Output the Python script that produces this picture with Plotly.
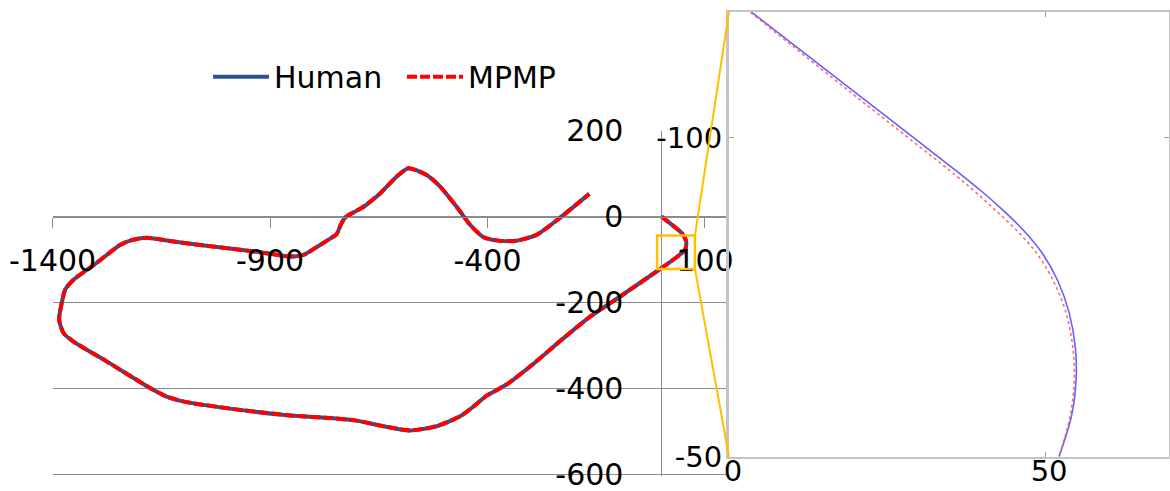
import plotly.graph_objects as go

# ---------------- data ----------------
# main trajectory (metres)
human_x = [0, 47, 57, 54.5, 31.5, -3, -95, -164, -225, -302, -356, -402, -432, -463, -517, -578,
           -639, -701, -762, -854, -969, -1092, -1138, -1176, -1276, -1352, -1375, -1385,
           -1379, -1371, -1352, -1299, -1245, -1222, -1184, -1122, -1046, -969, -892, -854, -823,
           -785, -760, -747, -737, -728, -715, -685, -647, -609, -582, -540, -509, -471, -440,
           -409, -371, -333, -287, -225, -166]
human_y = [0, -39, -58, -77, -97, -122, -186, -233, -283, -349, -391, -417, -442, -465, -488, -498,
           -488, -475, -469, -463, -450, -432, -419, -399, -337, -291, -271, -240,
           -201, -170, -147, -108, -66, -56, -49, -58, -68, -77, -87.5, -93, -89,
           -66, -50, -41, -18, -3, 6, 23, 54, 93, 112.6, 97, 70, 23, -19,
           -48, -56.5, -56, -42.5, 4, 53]
mpmp_x = [0, 47, 57, 54.5, 31.5, -3, -95, -164, -225, -302, -356, -402, -432, -463, -517, -578,
          -639, -701, -762, -854, -969, -1092, -1138, -1176, -1276, -1352, -1375, -1385,
          -1379, -1371, -1352, -1299, -1245, -1222, -1184, -1122, -1046, -969, -892, -854, -823,
          -785, -760, -747, -737, -728, -715, -685, -647, -609, -582, -540, -509, -471, -440,
          -409, -371, -333, -287, -225, -166]
mpmp_y = [0, -39, -58, -77, -97, -122, -186, -233, -283, -349, -391, -417, -442, -465, -488, -498,
          -488, -475, -469, -463, -450, -432, -419, -399, -337, -291, -271, -240,
          -201, -170, -147, -108, -66, -56, -49, -58, -68, -77, -87.5, -93, -89,
          -66, -50, -41, -18, -3, 6, 23, 54, 93, 112.6, 97, 70, 23, -19,
          -48, -56.5, -56, -42.5, 4, 53]

# zoomed detail (inset)
inset_human_x = [3.6, 20, 36, 40, 43.2, 46.5, 49.5, 52, 53.8, 54.8, 54.9, 54.2, 52.2]
inset_human_y = [-119.7, -107.1, -94.8, -91.6, -88.8, -85.6, -82, -77.6, -72.6, -67, -62, -56.5, -50]
inset_mpmp_x = [3.4, 19.3, 35.0, 38.9, 42.0, 45.4, 48.6, 51.3, 53.3, 54.4, 54.6, 54.0, 52.2]
inset_mpmp_y = [-119.7, -107.1, -94.8, -91.6, -88.8, -85.6, -82, -77.6, -72.6, -67, -62, -56.5, -50]

series_names = ["Human", "MPMP"]
main_x_ticks = [-1400, -900, -400, 100]
main_y_ticks = [200, 0, -200, -400, -600]
inset_x_ticks = [0, 50]
inset_y_ticks = [-100, -50]

# zoom box on the main chart (data units)
zoom_box = dict(x0=-10, x1=77, y0=-44, y1=-122)

# ---------------- layout constants ----------------
W, H = 1170, 491
FONT = "DejaVu Sans"
BLUE = "#2B5592"
RED = "#FF0000"
GOLD = "#FFC000"
GRID = "#8C8C8C"

main_xrange = [-1400, 153]
main_yrange = [-603, 200]
main_xdom = [52.6 / W, 728 / W]
main_ydom = [(H - 475.6) / H, (H - 130.7) / H]

inset_xrange = [0, 69.6]
inset_yrange = [-50, -119.8]
inset_xdom = [729 / W, 1169 / W]
inset_ydom = [(H - 456.7) / H, (H - 11.7) / H]


def px_x(v):
    return main_xdom[0] + (v - main_xrange[0]) / (main_xrange[1] - main_xrange[0]) * (main_xdom[1] - main_xdom[0])


def px_y(v):
    return main_ydom[0] + (v - main_yrange[0]) / (main_yrange[1] - main_yrange[0]) * (main_ydom[1] - main_ydom[0])


def labels(vals):
    return [str(v) for v in vals]


fig = go.Figure()

fig.add_trace(go.Scatter(x=human_x, y=human_y, mode="lines", name=series_names[0],
                         line=dict(color=BLUE, width=4, shape="spline", smoothing=0.6),
                         xaxis="x", yaxis="y"))
fig.add_trace(go.Scatter(x=mpmp_x, y=mpmp_y, mode="lines", name=series_names[1],
                         line=dict(color=RED, width=4, dash="10px,3px", shape="spline", smoothing=0.6),
                         xaxis="x", yaxis="y"))

fig.add_trace(go.Scatter(x=inset_human_x, y=inset_human_y, mode="lines", showlegend=False,
                         line=dict(color="rgba(70,70,255,0.85)", width=1.6, shape="spline", smoothing=1.0),
                         xaxis="x2", yaxis="y2"))
fig.add_trace(go.Scatter(x=inset_mpmp_x, y=inset_mpmp_y, mode="lines", showlegend=False,
                         line=dict(color="rgba(255,90,90,0.9)", width=1.6, dash="3px,3px",
                                   shape="spline", smoothing=1.0),
                         xaxis="x2", yaxis="y2"))

# zoom box and connectors
fig.add_shape(type="rect", xref="x", yref="y", **zoom_box, line=dict(color=GOLD, width=2.5))
fig.add_shape(type="line", xref="paper", yref="paper",
              x0=px_x(zoom_box["x1"]), y0=px_y(zoom_box["y0"]),
              x1=inset_xdom[0], y1=inset_ydom[1], line=dict(color=GOLD, width=2))
fig.add_shape(type="line", xref="paper", yref="paper",
              x0=px_x(zoom_box["x1"]), y0=px_y(zoom_box["y1"]),
              x1=inset_xdom[0], y1=inset_ydom[0], line=dict(color=GOLD, width=2))

tickfont = dict(family=FONT, size=30, color="black")
insetfont = dict(family=FONT, size=29, color="black")

fig.update_layout(
    width=W, height=H, margin=dict(l=0, r=0, t=0, b=0, autoexpand=False),
    paper_bgcolor="white", plot_bgcolor="white",
    font=dict(family=FONT, size=30, color="black"),
    showlegend=True,
    legend=dict(orientation="h", x=208 / W, xanchor="left", y=(H - 76.7) / H, yanchor="middle",
                font=dict(family=FONT, size=30, color="black"), bgcolor="rgba(0,0,0,0)",
                itemwidth=56, entrywidth=123, entrywidthmode="pixels"),
    xaxis=dict(domain=main_xdom, range=main_xrange, anchor="free", automargin=False,
               position=px_y(0), showgrid=False, zeroline=False,
               showline=True, linecolor=GRID, linewidth=1,
               ticks="outside", ticklen=10, tickcolor=GRID, ticklabelstandoff=7,
               ticklabeloverflow="allow",
               tickvals=main_x_ticks, ticktext=labels(main_x_ticks), tickfont=tickfont),
    yaxis=dict(domain=main_ydom, range=main_yrange, anchor="free", automargin=False,
               position=px_x(0), showgrid=True, gridcolor=GRID, gridwidth=1, zeroline=False,
               showline=True, linecolor=GRID, linewidth=1, ticks="",
               ticklabelstandoff=32, ticklabeloverflow="allow",
               tickvals=main_y_ticks, ticktext=labels(main_y_ticks), tickfont=tickfont),
    xaxis2=dict(domain=inset_xdom, range=inset_xrange, anchor="y2", automargin=False,
                showgrid=False, zeroline=False,
                showline=True, mirror="ticks", linecolor="#C4C4C4", linewidth=2,
                ticks="inside", ticklen=5, tickcolor="#A0A0A0", ticklabelstandoff=-13,
                ticklabelshift=4, ticklabeloverflow="allow",
                tickvals=inset_x_ticks, ticktext=labels(inset_x_ticks), tickfont=insetfont),
    yaxis2=dict(domain=inset_ydom, range=inset_yrange, anchor="x2", automargin=False,
                showgrid=False, zeroline=False,
                showline=True, mirror="ticks", linecolor="#C4C4C4", linewidth=3,
                ticks="inside", ticklen=5, tickcolor="#A0A0A0", ticklabelstandoff=-2,
                ticklabeloverflow="allow",
                tickvals=inset_y_ticks, ticktext=labels(inset_y_ticks), tickfont=insetfont),
)

fig.write_html("out.html")
